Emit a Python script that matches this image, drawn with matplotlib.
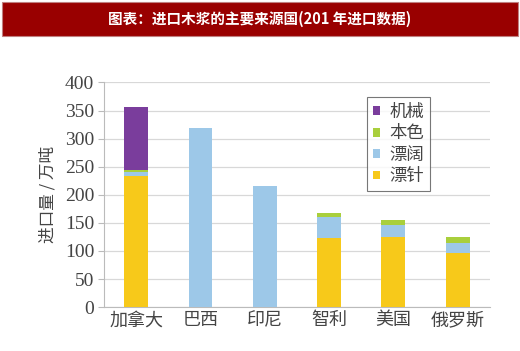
import numpy as np
import matplotlib
matplotlib.use('Agg')
import matplotlib.pyplot as plt
from matplotlib.patches import Rectangle

plt.rcParams['font.family'] = ['Noto Sans CJK SC', 'DejaVu Sans']

# ── data (万吨) ──
countries = ["加拿大", "巴西", "印尼", "智利", "美国", "俄罗斯"]
bleached_softwood = [233, 0, 0, 123, 125, 96]     # 漂针
bleached_hardwood = [8, 319, 216, 37, 21, 19]     # 漂阔
unbleached = [4, 0, 0, 8, 9, 9]                   # 本色
mechanical = [112, 0, 0, 0, 0, 0]                 # 机械
y_ticks = [0, 50, 100, 150, 200, 250, 300, 350, 400]

colors = {"漂针": "#F7C91A", "漂阔": "#9DC8E8", "本色": "#A9CF3C", "机械": "#7A3D9C"}

fig = plt.figure(figsize=(5.2, 3.51), dpi=100)
fig.patch.set_facecolor("white")

# ── header bar ──
fig.patches.append(Rectangle((0.004, 0.897), 0.992, 0.097, transform=fig.transFigure,
                             facecolor="#990000", edgecolor="#C08080", linewidth=0.8))
fig.text(0.5, 0.945, "图表：进口木浆的主要来源国(201 年进口数据)", color="white",
         ha="center", va="center", fontsize=10.5, fontweight="bold")

ax = fig.add_axes([0.2, 0.125, 0.742, 0.64])
x = np.arange(len(countries))
w = 0.37
bottom = np.zeros(len(countries))
series = [("漂针", bleached_softwood), ("漂阔", bleached_hardwood),
          ("本色", unbleached), ("机械", mechanical)]
handles = {}
for name, vals in series:
    vals = np.array(vals, dtype=float)
    b = ax.bar(x, vals, w, bottom=bottom, color=colors[name], zorder=3, label=name)
    handles[name] = b
    bottom += vals

ax.set_xlim(-0.5, len(countries) - 0.5)
ax.set_ylim(0, 400)
ax.set_yticks(y_ticks)
ax.set_yticklabels([str(t) for t in y_ticks], family="Liberation Serif", fontsize=14,
                   color="#444444")
ax.set_xticks(x)
ax.set_xticklabels(countries, fontsize=13, color="#444444")
ax.tick_params(axis="x", length=0, pad=3)
ax.tick_params(axis="y", length=4, color="#BBBBBB", pad=3)
ax.grid(axis="y", color="#D8D8D8", linewidth=0.9, zorder=0)
for s in ["top", "right"]:
    ax.spines[s].set_visible(False)
ax.spines["left"].set_color("#BBBBBB")
ax.spines["bottom"].set_color("#BBBBBB")
ax.set_ylabel("进口量 / 万吨", fontsize=12, color="#444444", labelpad=6)

order = ["机械", "本色", "漂阔", "漂针"]
leg = ax.legend([handles[n] for n in order], order, loc="upper left",
                bbox_to_anchor=(0.66, 0.975), fontsize=12.5, frameon=True,
                fancybox=False, edgecolor="#555555", handlelength=0.4,
                handleheight=0.4, handletextpad=0.5, labelspacing=0.2,
                borderpad=0.35, labelcolor="#444444")
leg.get_frame().set_linewidth(0.8)

plt.savefig("out.png", dpi=100)
plt.close()
